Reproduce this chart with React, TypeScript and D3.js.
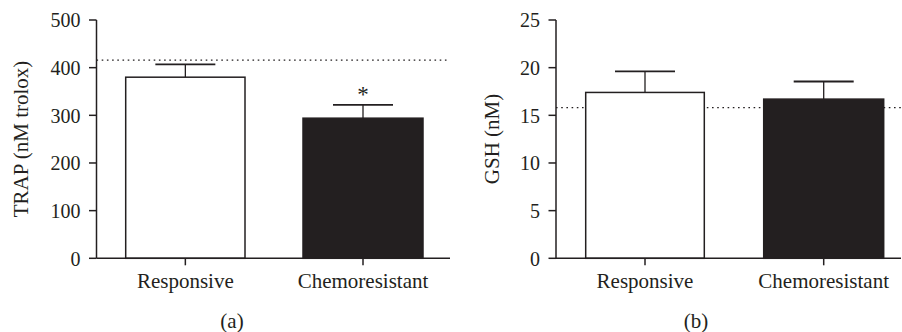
import React from "react";
import * as d3 from "d3";

const categories = ["Responsive", "Chemoresistant"];
const trapValues = [380, 294];
const trapErrors = [407, 322];
const trapRef = 416;
const trapTicks = [0, 100, 200, 300, 400, 500];
const gshValues = [17.4, 16.7];
const gshErrors = [19.6, 18.55];
const gshRef = 15.8;
const gshTicks = [0, 5, 10, 15, 20, 25];
const fills = ["#ffffff", "#231f20"];

const INK = "#231f20";
const FONT = "'Liberation Serif', 'Times New Roman', serif";

type PanelProps = {
  x0: number;
  x1: number;
  bars: [number, number][];
  values: number[];
  errors: number[];
  refLine: number;
  ticks: number[];
  max: number;
  title: string;
  titleX: number;
  label: string;
  labelX: number;
  star?: boolean[];
};

function Panel(p: PanelProps) {
  const yTop = 20;
  const yBot = 258.3;
  const y = d3.scaleLinear().domain([0, p.max]).range([yBot, yTop]);
  return (
    <g>
      <line x1={p.x0} x2={p.x1} y1={y(p.refLine)} y2={y(p.refLine)} stroke={INK} strokeWidth={1.3} strokeDasharray="1.6,3.6" />
      {p.values.map((v, i) => {
        const [bx0, bx1] = p.bars[i];
        const cx = (bx0 + bx1) / 2;
        return (
          <g key={i}>
            <line x1={cx} x2={cx} y1={y(v)} y2={y(p.errors[i])} stroke={INK} strokeWidth={1.3} />
            <line x1={cx - 30} x2={cx + 30} y1={y(p.errors[i])} y2={y(p.errors[i])} stroke={INK} strokeWidth={1.8} />
            <rect x={bx0} y={y(v)} width={bx1 - bx0} height={yBot - y(v)} fill={fills[i]} stroke={INK} strokeWidth={1.5} />
            {p.star && p.star[i] ? (
              <text x={cx} y={y(p.errors[i]) - 2.5} textAnchor="middle" fontFamily={FONT} fontSize={23} fill={INK}>*</text>
            ) : null}
            <line x1={cx} x2={cx} y1={yBot} y2={yBot + 7} stroke={INK} strokeWidth={1.5} />
            <text x={cx} y={288} textAnchor="middle" fontFamily={FONT} fontSize={21} fill={INK}>{categories[i]}</text>
          </g>
        );
      })}
      <line x1={p.x0} x2={p.x0} y1={yTop} y2={yBot} stroke={INK} strokeWidth={1.5} />
      <line x1={p.x0} x2={p.x1} y1={yBot} y2={yBot} stroke={INK} strokeWidth={1.5} />
      {p.ticks.map((t) => (
        <g key={t}>
          <line x1={p.x0 - 7.5} x2={p.x0} y1={y(t)} y2={y(t)} stroke={INK} strokeWidth={1.5} />
          <text x={p.x0 - 16} y={y(t)} dy="0.36em" textAnchor="end" fontFamily={FONT} fontSize={20} fill={INK}>{t}</text>
        </g>
      ))}
      <text transform={`translate(${p.titleX},139) rotate(-90)`} textAnchor="middle" fontFamily={FONT} fontSize={21} fill={INK}>{p.title}</text>
      <text x={p.labelX} y={328} textAnchor="middle" fontFamily={FONT} fontSize={21} fill={INK}>{p.label}</text>
    </g>
  );
}

export default function App() {
  return (
    <svg width={902} height={332} style={{ position: "absolute", left: 0, top: 0, background: "#fff" }}>
      <Panel
        x0={96.5}
        x1={450}
        bars={[[125.7, 245], [303, 423]]}
        values={trapValues}
        errors={trapErrors}
        refLine={trapRef}
        ticks={trapTicks}
        max={500}
        title="TRAP (nM trolox)"
        titleX={28}
        label="(a)"
        labelX={232}
        star={[false, true]}
      />
      <Panel
        x0={556}
        x1={901}
        bars={[[585.7, 704.3], [763.7, 883.7]]}
        values={gshValues}
        errors={gshErrors}
        refLine={gshRef}
        ticks={gshTicks}
        max={25}
        title="GSH (nM)"
        titleX={499}
        label="(b)"
        labelX={696}
      />
    </svg>
  );
}
